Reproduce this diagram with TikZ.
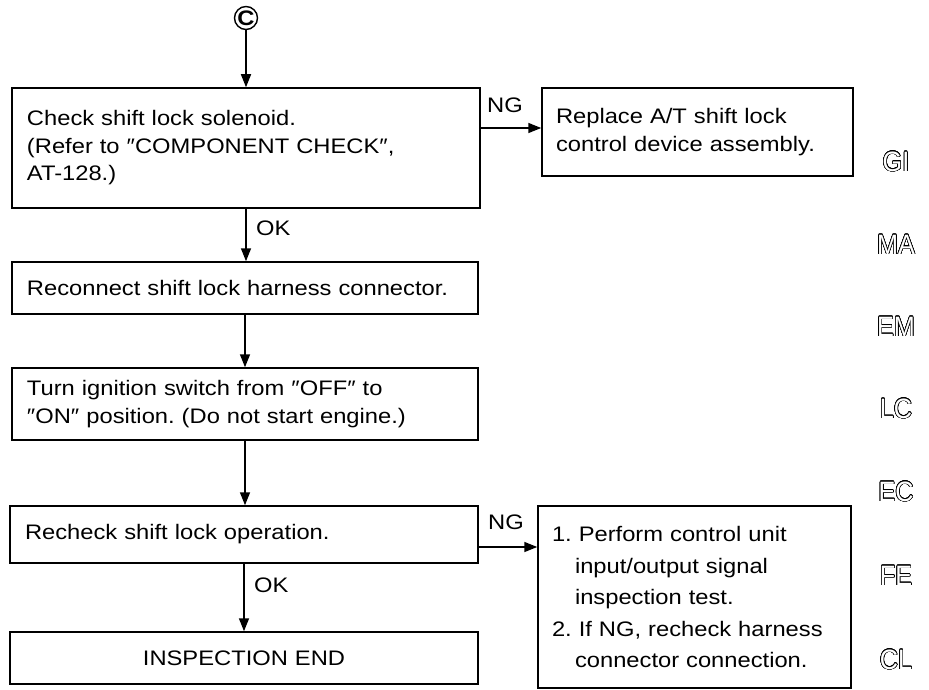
\documentclass[tikz,border=0pt]{standalone}
\usepackage{fontspec}
\setmainfont{Liberation Sans}[FakeStretch=1.13]
\newfontfamily\sidefont{Liberation Sans}[FakeStretch=0.9]
\usepackage{contour}
\contourlength{0.6pt}
\contournumber{24}
\usetikzlibrary{arrows.meta,calc}
\tikzset{
  box/.style={draw, line width=1.5pt, inner sep=0pt, align=left,
    font=\fontsize{21}{27.5}\selectfont},
  arr/.style={line width=1.5pt, -{Triangle[length=13pt,width=10pt]}},
  lbl/.style={font=\fontsize{21}{24}\selectfont, inner sep=0pt},
  side/.style={font=\sidefont\fontsize{28}{30}\selectfont, inner sep=0pt},
}
\newcommand{\outl}[1]{\contour{black}{\textcolor{white}{#1}}}
\newcommand{\dq}{\symbol{"2033}}
\frenchspacing
\begin{document}
\begin{tikzpicture}[x=1pt,y=-1pt]
\useasboundingbox (0,0) rectangle (929,690);
% start connector
\node[draw, circle, line width=1.4pt, inner sep=0pt, minimum size=23pt,
  font=\bfseries\fontsize{21}{21}\selectfont] (c) at (246,18) {C};
% boxes
\node[box, minimum width=468pt, minimum height=120pt, text width=438pt] (b1) at (246,148)
  {Check shift lock solenoid.\\(Refer to \dq COMPONENT CHECK\dq,\\AT-128.)};
\node[box, minimum width=311pt, minimum height=88pt, text width=283pt] (b2) at (697.5,132)
  {Replace A/T shift lock\\control device assembly.};
\node[box, minimum width=466pt, minimum height=52pt, text width=436pt] (b3) at (245,288)
  {Reconnect shift lock harness connector.};
\node[box, minimum width=466pt, minimum height=72pt, text width=436pt] (b4) at (245,404)
  {Turn ignition switch from \dq OFF\dq\ to\\\dq ON\dq\ position. (Do not start engine.)};
\node[box, minimum width=468pt, minimum height=57pt, text width=438pt] (b5) at (244,534.5)
  {Recheck shift lock operation.};
\node[box, minimum width=313pt, minimum height=182pt, text width=285pt,
  font=\fontsize{21}{31.5}\selectfont] (b6) at (694.5,597)
  {1. Perform control unit\\\hspace*{23pt}input/output signal\\\hspace*{23pt}inspection test.\\2. If NG, recheck harness\\\hspace*{23pt}connector connection.};
\node[box, minimum width=468pt, minimum height=52pt, text width=438pt, align=center] (b7) at (244,658)
  {INSPECTION END};
% connectors
\draw[arr] (c) -- (b1);
\draw[arr] (b1.east |- b2.west) ++(0,-4) coordinate (n1s) -- (n1s -| b2.west);
\draw[arr] (b1.south) -- (b1.south |- b3.north);
\draw[arr] (b3.south) -- (b3.south |- b4.north);
\draw[arr] (b4.south) -- (b4.south |- b5.north);
\draw[arr] ([yshift=-12.5pt]b5.east) coordinate (n2s) -- (n2s -| b6.west);
\draw[arr] (b5.south) -- (b5.south |- b7.north);
% labels
\node[lbl] (ng1) at (505,105) {NG};
\node[lbl, anchor=west] (ok1) at (256,228) {OK};
\node[lbl] (ng2) at (506,522) {NG};
\node[lbl, anchor=west] (ok2) at (254,585) {OK};
% side section labels
\node[side] (gi) at (896,162) {\outl{GI}};
\node[side] (ma) at (896,245) {\outl{MA}};
\node[side] (em) at (896,327) {\outl{EM}};
\node[side] (lc) at (896,409) {\outl{LC}};
\node[side] (ec) at (896,492) {\outl{EC}};
\node[side] (fe) at (896,576) {\outl{FE}};
\node[side] (cl) at (896,660) {\outl{CL}};
\end{tikzpicture}
\end{document}
